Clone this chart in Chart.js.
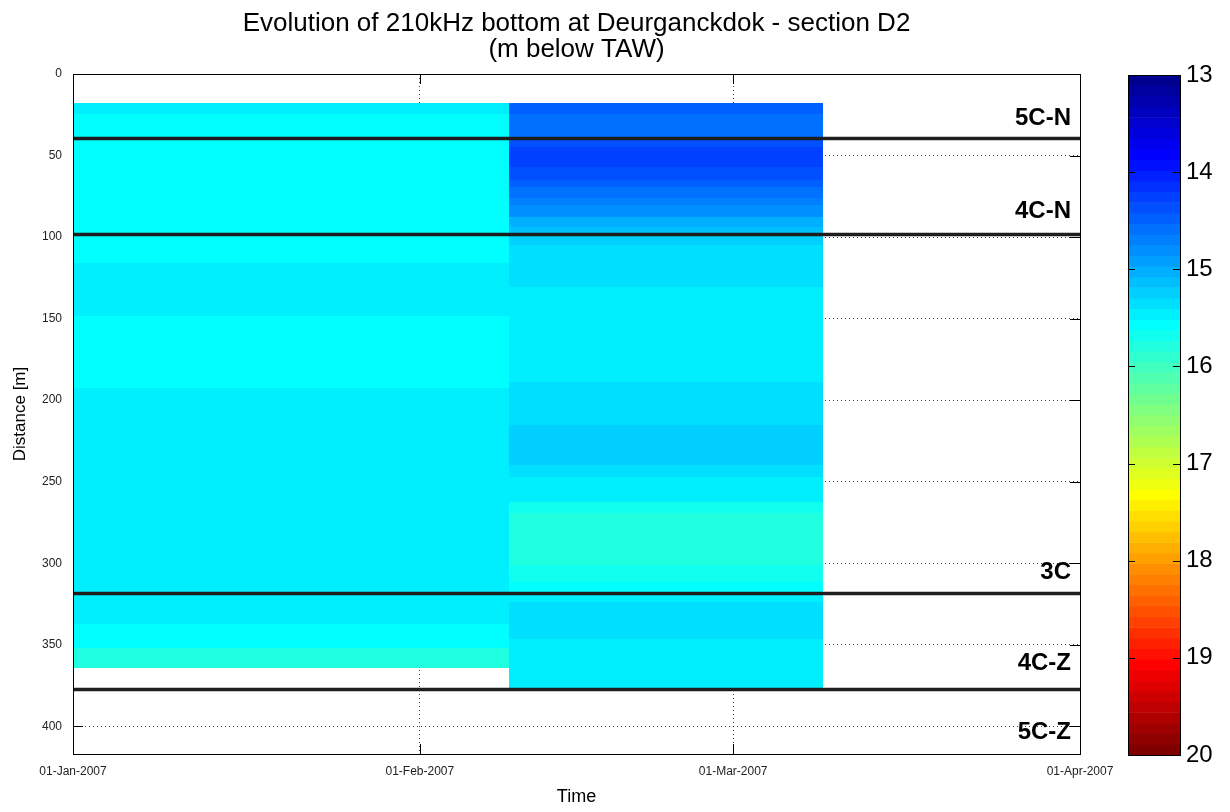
<!DOCTYPE html>
<html>
<head>
<meta charset="utf-8">
<script src="https://cdn.jsdelivr.net/npm/chart.js@4.4.0/dist/chart.umd.min.js"></script>
<style>
  html, body { margin: 0; padding: 0; background: #fff; }
  #wrap { position: relative; width: 1230px; height: 812px; }
  #main { position: absolute; left: 0; top: 0; }
  #cbar { position: absolute; left: 1100px; top: 0; }
</style>
</head>
<body>
<div id="wrap">
  <canvas id="main" width="1230" height="812"></canvas>
  <canvas id="cbar" width="130" height="812"></canvas>
</div>
<script>
// survey columns, in days since 01-Jan-2007
const surveyEdges = [0, 39, 67];

// survey 1: distance band edges [m] and bottom depth [m below TAW]
const survey1Edges = [17.6, 24.5, 116, 148.5, 192.6, 337, 352, 364];
const survey1Depth = [15.46, 15.57, 15.46, 15.57, 15.46, 15.57, 15.79];

// survey 2
const survey2Edges = [17.6, 24.8, 40.5, 44.6, 56.9, 65.0, 69.1, 76.2, 80.4, 87.5, 93.7, 98.8, 104.9,
                      130.5, 188.8, 215.3, 239.9, 247.1, 262.4, 269.3, 301.2, 311.7, 318.5, 323.7, 346.2, 376.9];
const survey2Depth = [14.47, 14.58, 14.36, 14.25, 14.36, 14.47, 14.58, 14.69, 14.80, 15.02, 15.13, 15.24,
                      15.35, 15.46, 15.35, 15.24, 15.35, 15.46, 15.68, 15.79, 15.68, 15.57, 15.46, 15.35, 15.46];

// zone boundaries and names
const horizonDepths = [39.5, 98.5, 318.5, 377.5];
const zoneNames = ['5C-N', '4C-N', '3C', '4C-Z', '5C-Z'];
const zoneLabelDistance = [27.5, 84, 305.5, 361.5, 403.5];

const timeTickDays = [0, 31, 59, 90];
const timeTickLabels = ['01-Jan-2007', '01-Feb-2007', '01-Mar-2007', '01-Apr-2007'];
const distanceTicks = [0, 50, 100, 150, 200, 250, 300, 350, 400];
const colorTicks = [13, 14, 15, 16, 17, 18, 19, 20];
const colorMin = 13, colorMax = 20;

const FONT = '"Liberation Sans", Arial, Helvetica, sans-serif';

// matlab jet(n)
function jet(n) {
  const m = Math.ceil(n / 4);
  const u = [];
  for (let i = 1; i <= m; i++) u.push(i / m);
  for (let i = 1; i < m; i++) u.push(1);
  for (let i = m; i >= 1; i--) u.push(i / m);
  const g0 = Math.ceil(m / 2) - (n % 4 === 1 ? 1 : 0);
  const pick = k => (k >= 1 && k <= u.length) ? u[k - 1] : 0;
  const out = [];
  for (let i = 1; i <= n; i++) {
    const r = pick(i - g0 - m), g = pick(i - g0), b = pick(i - g0 + m);
    out.push('rgb(' + Math.round(r * 255) + ',' + Math.round(g * 255) + ',' + Math.round(b * 255) + ')');
  }
  return out;
}
const jetColors = jet(64);

function depthColor(v) {
  let idx = Math.floor((v - colorMin) / (colorMax - colorMin) * jetColors.length);
  idx = Math.max(0, Math.min(jetColors.length - 1, idx));
  return jetColors[idx];
}

const surveys = [
  { edges: survey1Edges, depth: survey1Depth },
  { edges: survey2Edges, depth: survey2Depth }
];

const heatCells = {
  id: 'heatCells',
  beforeDatasetsDraw(chart) {
    const { ctx, chartArea: a, scales: { x, y } } = chart;
    ctx.save();
    // inward tick marks (below the data, like matlab)
    ctx.strokeStyle = '#000';
    ctx.lineWidth = 1;
    ctx.beginPath();
    x.ticks.forEach(t => {
      const px = Math.round(x.getPixelForValue(t.value)) + 0.5;
      ctx.moveTo(px, a.bottom); ctx.lineTo(px, a.bottom - 10);
      ctx.moveTo(px, a.top); ctx.lineTo(px, a.top + 10);
    });
    y.ticks.forEach(t => {
      const py = Math.round(y.getPixelForValue(t.value)) + 0.5;
      ctx.moveTo(a.left, py); ctx.lineTo(a.left + 10, py);
      ctx.moveTo(a.right, py); ctx.lineTo(a.right - 10, py);
    });
    ctx.stroke();
    // pcolor cells
    surveys.forEach((s, j) => {
      const x0 = Math.round(x.getPixelForValue(surveyEdges[j]));
      const x1 = Math.round(x.getPixelForValue(surveyEdges[j + 1]));
      s.depth.forEach((v, k) => {
        const y0 = Math.round(y.getPixelForValue(s.edges[k]));
        const y1 = Math.round(y.getPixelForValue(s.edges[k + 1]));
        ctx.fillStyle = depthColor(v);
        ctx.fillRect(x0, y0, x1 - x0, y1 - y0);
      });
    });
    ctx.restore();
  },
  afterDatasetsDraw(chart) {
    const { ctx, chartArea: a, scales: { y } } = chart;
    ctx.save();
    ctx.font = 'bold 24px ' + FONT;
    ctx.fillStyle = '#000';
    ctx.textAlign = 'right';
    ctx.textBaseline = 'middle';
    zoneNames.forEach((name, i) => {
      ctx.fillText(name, a.right - 9, y.getPixelForValue(zoneLabelDistance[i]));
    });
    ctx.strokeStyle = '#000';
    ctx.lineWidth = 1;
    ctx.strokeRect(Math.round(a.left) + 0.5, Math.round(a.top) + 0.5,
                   Math.round(a.right - a.left), Math.round(a.bottom - a.top));
    ctx.restore();
  }
};

new Chart(document.getElementById('main'), {
  type: 'scatter',
  data: {
    datasets: horizonDepths.map(d => ({
      data: [{ x: 0, y: d }, { x: 90, y: d }],
      showLine: true,
      borderColor: '#1e1e1e',
      borderWidth: 3.5,
      pointRadius: 0,
      fill: false
    }))
  },
  options: {
    responsive: false,
    animation: false,
    events: [],
    layout: { padding: { left: 0, right: 150, top: 0, bottom: 0 } },
    plugins: {
      legend: { display: false },
      tooltip: { enabled: false },
      title: {
        display: true,
        fullSize: false,
        text: ['Evolution of 210kHz bottom at Deurganckdok - section D2', '(m below TAW)'],
        color: '#000',
        font: { family: FONT, size: 26, weight: 'normal', lineHeight: 1 },
        padding: { top: 11, bottom: 11 }
      }
    },
    scales: {
      x: {
        type: 'linear',
        min: 0,
        max: 90,
        afterBuildTicks: s => { s.ticks = timeTickDays.map(v => ({ value: v })); },
        afterFit: s => { s.height = 58; },
        ticks: {
          color: '#222',
          font: { family: FONT, size: 12 },
          padding: 10,
          maxRotation: 0,
          callback: v => timeTickLabels[timeTickDays.indexOf(v)]
        },
        grid: { color: 'rgba(0,0,0,0.75)', lineWidth: 1, drawTicks: false },
        border: { display: false, dash: [1, 3] },
        title: {
          display: true,
          text: 'Time',
          color: '#000',
          font: { family: FONT, size: 18 },
          padding: { top: 0, bottom: 4 }
        }
      },
      y: {
        type: 'linear',
        min: 0,
        max: 417,
        reverse: true,
        afterBuildTicks: s => { s.ticks = distanceTicks.map(v => ({ value: v })); },
        afterFit: s => { s.width = 73; },
        ticks: {
          color: '#222',
          font: { family: FONT, size: 12 },
          padding: 11
        },
        grid: { color: 'rgba(0,0,0,0.75)', lineWidth: 1, drawTicks: false },
        border: { display: false, dash: [1, 3] },
        title: {
          display: true,
          text: 'Distance [m]',
          color: '#000',
          font: { family: FONT, size: 17 },
          padding: { top: 10, bottom: 0 }
        }
      }
    }
  },
  plugins: [heatCells]
});

// colour bar
const cbarFrame = {
  id: 'cbarFrame',
  afterDatasetsDraw(chart) {
    const { ctx, chartArea: a, scales: { y } } = chart;
    ctx.save();
    ctx.strokeStyle = '#000';
    ctx.lineWidth = 1;
    ctx.beginPath();
    y.ticks.forEach(t => {
      const py = Math.round(y.getPixelForValue(t.value)) + 0.5;
      ctx.moveTo(a.left, py); ctx.lineTo(a.left + 7, py);
      ctx.moveTo(a.right, py); ctx.lineTo(a.right - 7, py);
    });
    ctx.stroke();
    ctx.strokeRect(Math.round(a.left) + 0.5, Math.round(a.top) + 0.5,
                   Math.round(a.right - a.left), Math.round(a.bottom - a.top));
    ctx.restore();
  }
};

const levelStep = (colorMax - colorMin) / jetColors.length;
new Chart(document.getElementById('cbar'), {
  type: 'bar',
  data: {
    labels: [''],
    datasets: jetColors.map((c, k) => ({
      data: [[colorMin + k * levelStep, colorMin + (k + 1) * levelStep]],
      backgroundColor: c,
      borderWidth: 0,
      grouped: false,
      barPercentage: 1,
      categoryPercentage: 1
    }))
  },
  options: {
    responsive: false,
    animation: false,
    events: [],
    layout: { padding: { left: 28, top: 75, bottom: 57, right: 0 } },
    plugins: { legend: { display: false }, tooltip: { enabled: false } },
    scales: {
      x: { display: false },
      y: {
        position: 'right',
        min: colorMin,
        max: colorMax,
        reverse: true,
        afterBuildTicks: s => { s.ticks = colorTicks.map(v => ({ value: v })); },
        afterFit: s => { s.width = 50; },
        grid: { display: false, drawTicks: false },
        border: { display: false },
        ticks: { color: '#000', font: { family: FONT, size: 24 }, padding: 6 }
      }
    }
  },
  plugins: [cbarFrame]
});
</script>
</body>
</html>
